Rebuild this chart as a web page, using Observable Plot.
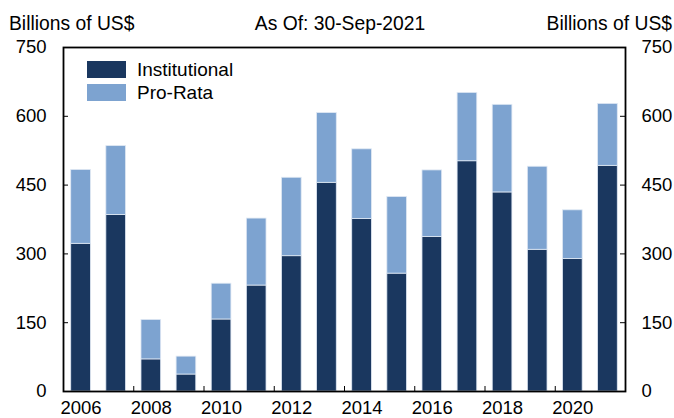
<!DOCTYPE html>
<html><head><meta charset="utf-8">
<script src="https://cdn.jsdelivr.net/npm/d3@7"></script>
<script src="https://cdn.jsdelivr.net/npm/@observablehq/plot@0.6"></script>
<style>
body{margin:0;background:#fff;font-family:"Liberation Sans",Arial,sans-serif;}
#wrap{position:relative;width:674px;height:418px;overflow:hidden;}
#wrap svg{position:absolute;left:0;top:0;}
.t{position:absolute;font-size:19.3px;color:#000;white-space:nowrap;line-height:1;}
.sw{position:absolute;width:39px;height:17px;}
</style></head><body><div id="wrap"></div>
<script>
const years = [2006,2007,2008,2009,2010,2011,2012,2013,2014,2015,2016,2017,2018,2019,2020,2021];
const institutional = [322,385,70,37,157,231,295,455,376,257,337,502,434,309,289,492];
const proRata = [161,150,86,39,78,146,171,152,152,167,145,149,191,181,106,135];
const yTicks = [0,150,300,450,600,750];
const xLabelYears = [2006,2008,2010,2012,2014,2016,2018,2020];
const xTickMarks = [2007.5,2009.5,2011.5,2013.5,2015.5,2017.5,2019.5];
const seriesNames = ["Institutional","Pro-Rata"];
const colors = ["#1a375f","#7da3d0"];

const W = 674, H = 418, mT = 47, mB = 27, mL = 63, mR = 49;
const pw = W - mL - mR, ph = H - mT - mB;
const half = 0.28;

const rows = [];
years.forEach((yr, i) => {
  rows.push({year: yr, series: seriesNames[0], y1: 0, y2: institutional[i]});
  rows.push({year: yr, series: seriesNames[1], y1: institutional[i], y2: institutional[i] + proRata[i]});
});

const fs = 18.5;
const chart = Plot.plot({
  width: W, height: H,
  marginTop: mT, marginBottom: mB, marginLeft: mL, marginRight: mR,
  style: {fontFamily: '"Liberation Sans", Arial, sans-serif', fontSize: fs + "px", background: "#fff", color: "#000"},
  x: {type: "linear", domain: [years[0] - 0.5, years[years.length - 1] + 0.5], label: null},
  y: {domain: [yTicks[0], yTicks[yTicks.length - 1]], label: null},
  color: {domain: seriesNames, range: colors},
  marks: [
    Plot.rect(rows, {x1: d => d.year - half, x2: d => d.year + half, y1: "y1", y2: "y2", fill: "series", stroke: "#dfe8f3", strokeWidth: 0.8}),
    Plot.tickY(yTicks, {y: d => d, insetRight: pw - 5, stroke: "#000", strokeWidth: 1}),
    Plot.tickY(yTicks, {y: d => d, insetLeft: pw - 5, stroke: "#000", strokeWidth: 1}),
    Plot.tickX(xTickMarks, {x: d => d, insetTop: ph - 5, stroke: "#000", strokeWidth: 1}),
    Plot.axisY(yTicks, {anchor: "left", tickSize: 0, tickPadding: 17, fontSize: fs, label: null}),
    Plot.axisY(yTicks, {anchor: "right", tickSize: 0, tickPadding: 16, fontSize: fs, label: null}),
    Plot.axisX(xLabelYears, {anchor: "bottom", tickSize: 0, tickPadding: 9.5, fontSize: fs, tickFormat: d => String(d), label: null}),
    Plot.frame({stroke: "#000", strokeWidth: 1.8})
  ]
});
const wrap = document.getElementById("wrap");
wrap.appendChild(chart);

function addText(txt, style) {
  const d = document.createElement("div");
  d.className = "t";
  d.textContent = txt;
  Object.assign(d.style, style);
  wrap.appendChild(d);
  return d;
}
addText("Billions of US$", {left: "9px", top: "14px"});
addText("As Of: 30-Sep-2021", {left: "340px", top: "14px", transform: "translateX(-50%)"});
addText("Billions of US$", {right: "2px", top: "14px"});

seriesNames.forEach((s, i) => {
  const sw = document.createElement("div");
  sw.className = "sw";
  sw.style.left = "87px";
  sw.style.top = (61 + i * 23.3) + "px";
  sw.style.background = colors[i];
  wrap.appendChild(sw);
  addText(s, {left: "137px", top: (59.7 + i * 23.3) + "px", fontSize: "19px"});
});
</script>
</body></html>
